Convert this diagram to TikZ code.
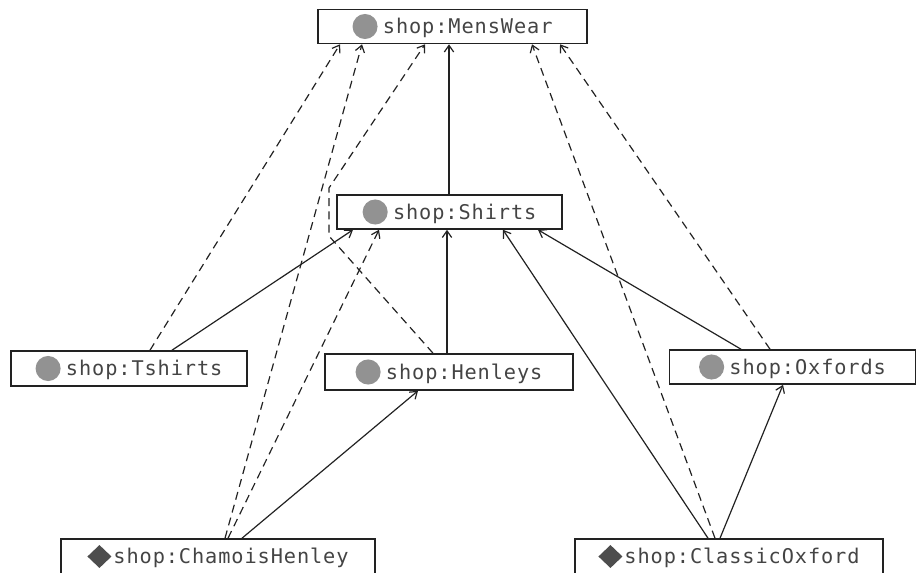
\documentclass[tikz,border=0pt]{standalone}
\usepackage{fontspec}
\newfontfamily\labelfont[LetterSpace=4.5]{DejaVu Sans Mono}
\usetikzlibrary{arrows.meta,calc}
\definecolor{dotgray}{HTML}{929292}
\definecolor{diagray}{HTML}{4D4D4D}
\definecolor{txtgray}{HTML}{444444}
\definecolor{linegray}{HTML}{222222}
\newcommand{\classdot}{\tikz[baseline=-5.4pt]\fill[dotgray] (0,0) circle (9.4pt);\hspace{4pt}}
\newcommand{\instdia}{\tikz[baseline=-5.4pt]\fill[diagray] (0,8.6pt) -- (9pt,0) -- (0,-8.6pt) -- (-9pt,0) -- cycle;\hspace{1.5pt}}
\tikzset{
  box/.style={draw=linegray, line width=1.2pt, inner sep=0pt, minimum height=25.5pt,
    font=\labelfont\fontsize{15.2}{18}\selectfont, text=txtgray},
  arr/.style={draw=linegray, line width=0.9pt, -{Straight Barb[length=5pt,width=7pt]}},
  dsh/.style={arr, dash pattern=on 6pt off 4pt}
}
\begin{document}
\begin{tikzpicture}[x=0.75pt,y=-0.75pt]
\useasboundingbox (0,0) rectangle (916,573);
\node[box, minimum width=201.75pt] (mw)  at (452.5,26.5) {\classdot shop:MensWear};
\node[box, minimum width=168.75pt] (shi) at (449.5,212)  {\classdot shop:Shirts};
\node[box, minimum width=177pt, minimum height=26.25pt] (tsh) at (129,368.5) {\classdot shop:Tshirts};
\node[box, minimum width=186pt, minimum height=27pt] (hen) at (449,372) {\classdot shop:Henleys};
\node[box, minimum width=184.5pt] (oxf) at (792.5,367) {\classdot shop:Oxfords};
\node[box, minimum width=235.5pt, minimum height=26.25pt] (cha) at (218,556.5) {\instdia shop:ChamoisHenley};
\node[box, minimum width=231pt, minimum height=26.25pt] (cla) at (729,556.5) {\instdia shop:ClassicOxford};
\coordinate (hb1) at (329,236);
\coordinate (hb2) at (329,188);
% Tshirts
\draw[dsh] ($(tsh.north)+(21,0)$) -- ($(mw.south)+(-112.5,0)$);
\draw[arr] ($(tsh.north)+(43,0)$) -- ($(shi.south)+(-96.5,0)$);
% ChamoisHenley
\draw[dsh] ($(cha.north)+(7,0)$) -- ($(mw.south)+(-90.5,0)$);
\draw[dsh] ($(cha.north)+(10,0)$) -- ($(shi.south)+(-70.5,0)$);
\draw[arr] ($(cha.north)+(24,0)$) -- ($(hen.south)+(-31,0)$);
% Henleys
\draw[dsh] ($(hen.north)+(-16,0)$) -- (hb1) -- (hb2) -- ($(mw.south)+(-27.5,0)$);
\draw[arr] ($(hen.north)+(-2,0)$) -- ($(shi.south)+(-2.5,0)$);
% Shirts
\draw[arr] ($(shi.north)+(-0.5,0)$) -- ($(mw.south)+(-3.5,0)$);
% Oxfords
\draw[arr] ($(oxf.north)+(-51.5,0)$) -- ($(shi.south)+(88.5,0)$);
\draw[dsh] ($(oxf.north)+(-22.5,0)$) -- ($(mw.south)+(107.5,0)$);
% ClassicOxford
\draw[arr] ($(cla.north)+(-21,0)$) -- ($(shi.south)+(53.5,0)$);
\draw[dsh] ($(cla.north)+(-14,0)$) -- ($(mw.south)+(79.5,0)$);
\draw[arr] ($(cla.north)+(-9,0)$) -- ($(oxf.south)+(-9.5,0)$);
\end{tikzpicture}
\end{document}
